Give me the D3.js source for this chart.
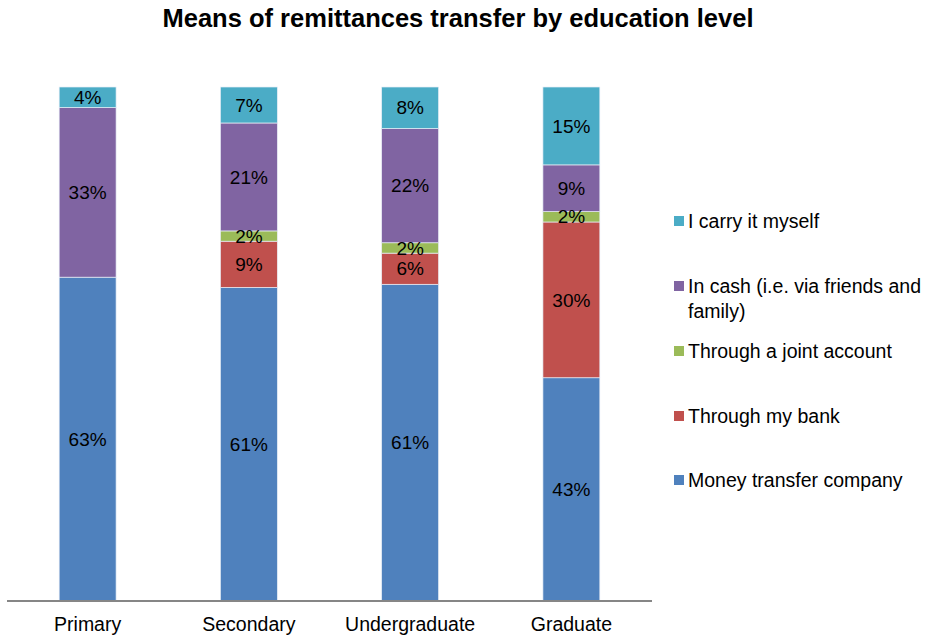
<!DOCTYPE html>
<html><head><meta charset="utf-8">
<script src="https://cdn.jsdelivr.net/npm/d3@7"></script>
<style>body{margin:0;background:#fff;}svg{display:block;font-family:"Liberation Sans",Arial,sans-serif;}</style>
</head><body>
<svg id="c" width="929" height="639"></svg>
<script>
const categories = ["Primary", "Secondary", "Undergraduate", "Graduate"];
const seriesNames = ["Money transfer company", "Through my bank", "Through a joint account", "In cash (i.e. via friends and family)", "I carry it myself"];
const moneyTransfer = [63, 61, 61, 43];
const myBank = [0, 9, 6, 30];
const jointAccount = [0, 2, 2, 2];
const inCash = [33, 21, 22, 9];
const carryMyself = [4, 7, 8, 15];
const colors = ["#4F81BD", "#C0504D", "#9BBB59", "#8064A2", "#4BACC6"];

const seriesValues = [moneyTransfer, myBank, jointAccount, inCash, carryMyself];
const rows = categories.map((c, i) => {
  const r = {cat: c};
  seriesNames.forEach((s, j) => r[s] = seriesValues[j][i]);
  return r;
});

const svg = d3.select("#c");
const x = d3.scaleBand().domain(categories).range([7, 652]).paddingInner(0.647).paddingOuter(0.3235);
const y = d3.scaleLinear().domain([0, 1]).range([601, 87]);

const stack = d3.stack().keys(seriesNames).offset(d3.stackOffsetExpand);
const layers = stack(rows);

svg.append("text").attr("x", 458).attr("y", 27).attr("text-anchor", "middle")
  .attr("font-size", 25.5).attr("font-weight", "bold").text("Means of remittances transfer by education level");

const g = svg.append("g");
layers.forEach((layer, j) => {
  g.selectAll(null).data(layer).enter().append("rect")
    .attr("x", d => x(d.data.cat))
    .attr("width", x.bandwidth())
    .attr("y", d => y(d[1]))
    .attr("height", d => Math.max(0, y(d[0]) - y(d[1])))
    .attr("fill", colors[j])
    .attr("stroke", "#e8eef7").attr("stroke-width", 0.7);
});
layers.forEach((layer, j) => {
  g.selectAll(null).data(layer.filter(d => d.data[seriesNames[j]] > 0)).enter().append("text")
    .attr("x", d => x(d.data.cat) + x.bandwidth() / 2)
    .attr("y", d => (y(d[0]) + y(d[1])) / 2)
    .attr("dy", "0.35em")
    .attr("text-anchor", "middle").attr("font-size", 19).attr("fill", "#000")
    .text(d => d.data[seriesNames[j]] + "%");
});

const axis = d3.axisBottom(x).tickSize(0).tickPadding(16);
const ax = svg.append("g").attr("transform", "translate(0,601)").call(axis);
ax.select(".domain").attr("stroke", "#868686").attr("stroke-width", 2).attr("d", "M7,0H652");
ax.selectAll("text").attr("font-size", 19.5).attr("fill", "#000").attr("font-family", "Liberation Sans, Arial, sans-serif");

const legendItems = [
  {i: 4, y: 221, lines: ["I carry it myself"]},
  {i: 3, y: 286, lines: ["In cash (i.e. via friends and", "family)"]},
  {i: 2, y: 351, lines: ["Through a joint account"]},
  {i: 1, y: 416, lines: ["Through my bank"]},
  {i: 0, y: 480, lines: ["Money transfer company"]}
];
const lg = svg.append("g");
legendItems.forEach(it => {
  lg.append("rect").attr("x", 674).attr("y", it.y - 5).attr("width", 10).attr("height", 10).attr("fill", colors[it.i]);
  const t = lg.append("text").attr("x", 688).attr("y", it.y).attr("font-size", 19.5).attr("fill", "#000");
  it.lines.forEach((l, k) => t.append("tspan").attr("x", 688).attr("dy", k === 0 ? "0.35em" : "1.28em").text(l));
});
</script>
</body></html>
